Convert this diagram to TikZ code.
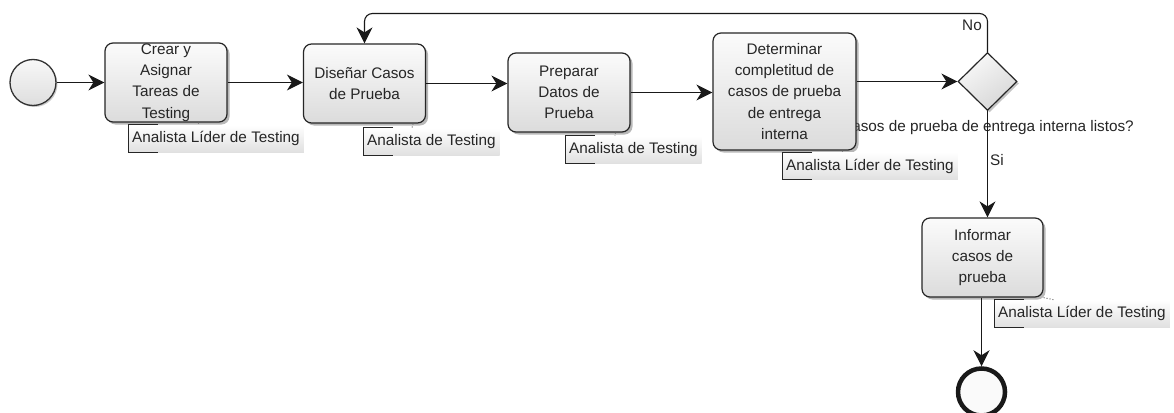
\documentclass[tikz,border=0pt]{standalone}
\usepackage{fontspec}
\setmainfont{Liberation Sans}
\usetikzlibrary{arrows.meta,shapes.geometric,shadows}

\begin{document}
\begin{tikzpicture}[x=1pt,y=-1pt,font=\fontsize{15.3}{21.3}\selectfont,>={Stealth[length=16pt,width=16pt,inset=5pt]}]
        \tikzstyle{task}=[draw=black!85,line width=1.2pt,rounded corners=8pt,top color=gray!3,bottom color=gray!28,align=center,inner sep=0pt,text=black!85,minimum width=122pt,minimum height=79pt,drop shadow={shadow xshift=2.5pt,shadow yshift=-2.5pt,fill=black!55}]
        \tikzstyle{role}=[anchor=west,minimum height=27pt,inner xsep=4pt,inner ysep=0pt,top color=white,bottom color=gray!24,text=black!85]
        \tikzstyle{flow}=[->,line width=1.1pt,draw=black!90]
        \tikzstyle{assoc}=[dotted,line width=1pt,draw=black!60]
        \tikzstyle{bracket}=[line width=1pt,draw=black!85]
        \path[use as bounding box,fill=white] (0,0) rectangle (1174,412);
        \coordinate (retorno) at (0,13.5);
        \node[circle,draw=black!80,line width=1.3pt,minimum size=46pt,inner sep=0pt,top color=gray!6,bottom color=gray!26,drop shadow={shadow xshift=1.5pt,shadow yshift=-1.5pt,fill=black!40}] (inicio) at (33,82.5) {};
        \node[diamond,draw=black!85,line width=1.2pt,minimum width=59pt,minimum height=58pt,inner sep=0pt,top color=gray!5,bottom color=gray!32,shading angle=35,drop shadow={shadow xshift=2pt,shadow yshift=-2pt,fill=black!45}] (decision) at (987.5,81.5) {};
        \node[text=black!85] (pregunta) at (987.5,128) {Casos de prueba de entrega interna listos?};
        \node[task,label={[align=center,text=black!85]center:Crear y\\Asignar\\Tareas de\\Testing}] (crear) at (166,82.5) {};
        \node[task] (disenar) at (364.5,83.5) {Diseñar Casos\\de Prueba};
        \node[task] (preparar) at (569,92.5) {Preparar\\Datos de\\Prueba};
        \node[task,minimum width=143pt,minimum height=117pt] (determinar) at (784.5,91.5) {Determinar\\completitud de\\casos de prueba\\de entrega\\interna};
        \node[task,minimum width=121pt] (informar) at (982.5,257.5) {Informar\\casos de\\prueba};
        \node[circle,draw=black!90,line width=4.5pt,minimum size=47pt,inner sep=0pt,fill=gray!4] (fin) at (981.5,392) {};
        \node[role] (rol1) at (128,138.5) {Analista Líder de Testing};
        \node[role] (rol2) at (363,141.5) {Analista de Testing};
        \node[role] (rol3) at (565,149.5) {Analista de Testing};
        \node[role] (rol4) at (782,166) {Analista Líder de Testing};
        \node[role] (rol5) at (994,313.5) {Analista Líder de Testing};
        \foreach \r in {rol1,rol2,rol3,rol4,rol5}
                \draw[bracket] ([xshift=30pt]\r.north west) -| (\r.south west) -- ++(30,0);
        \draw[assoc] ([xshift=-29pt]crear.south east) -- ([xshift=70pt]rol1.north west);
        \draw[assoc] ([xshift=-13pt]disenar.south east) -- ([xshift=49pt]rol2.north west);
        \draw[assoc] ([xshift=-15pt]preparar.south east) -- ([xshift=50pt]rol3.north west);
        \draw[assoc] ([xshift=-14pt]determinar.south east) -- ([xshift=60pt]rol4.north west);
        \draw[assoc] (informar.south east) -- ([xshift=60pt]rol5.north west);
        \draw[flow] (inicio) -- (crear);
        \draw[flow] (crear.east) -- (crear.east -| disenar.west);
        \draw[flow] (disenar.east) -- (disenar.east -| preparar.west);
        \draw[flow] (preparar.east) -- (preparar.east -| determinar.west);
        \draw[flow] (decision -| determinar.east) -- (decision);
        \draw[flow,rounded corners=8pt] (decision.north) |- (disenar.north |- retorno) -- (disenar.north);
        \draw[flow] (decision) -- (decision |- informar.north);
        \draw[flow] (informar.south -| fin) -- (fin);
        \node[text=black!85] (no) at (972,25) {No};
        \node[text=black!85] (si) at (997,160) {Si};
\end{tikzpicture}
\end{document}
